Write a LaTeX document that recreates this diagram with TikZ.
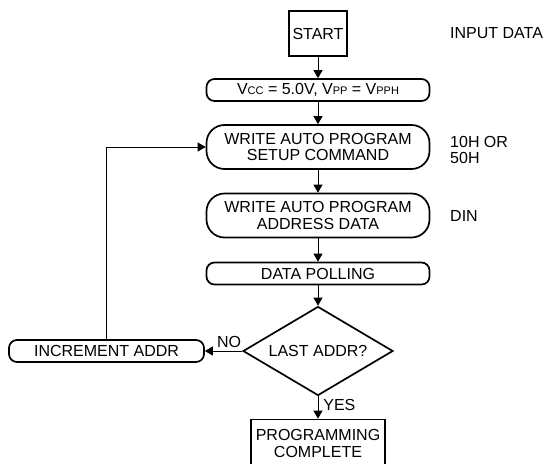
\documentclass[tikz,border=0pt]{standalone}
\usepackage{fontspec}
\setmainfont{Liberation Sans}
\usetikzlibrary{shapes.geometric,arrows.meta}
\newcommand{\smc}[1]{{\fontsize{11}{11}\selectfont #1}}
\begin{document}
\begin{tikzpicture}[x=1pt,y=-1pt,
  every node/.style={font=\fontsize{16}{16.5}\selectfont, inner sep=0pt},
  box/.style={draw, line width=1.7pt, align=center},
  rbox/.style={box, rounded corners=8pt, minimum width=223pt, minimum height=22pt},
  tbox/.style={box, rounded corners=18pt, minimum width=223pt, minimum height=44pt},
  dec/.style={draw, diamond, line width=1.7pt, minimum width=150pt, minimum height=89pt, aspect=1.67},
  lab/.style={anchor=west, align=left},
  conn/.style={line width=0.8pt, -{Triangle[length=8pt,width=9pt]}}
]
\useasboundingbox (0,0) rectangle (548,463);
\node[box, minimum width=58pt, minimum height=45pt] (start) at (318,33.5) {START};
\node[rbox] (vcc) at (318,90) {V\smc{CC} = 5.0V, V\smc{PP} = V\smc{PPH}};
\node[tbox] (setup) at (318,147) {WRITE AUTO PROGRAM\\SETUP COMMAND};
\node[tbox] (addr) at (318,215.5) {WRITE AUTO PROGRAM\\ADDRESS DATA};
\node[rbox] (poll) at (318,273.5) {DATA POLLING};
\node[dec] (last) at (318,351) {LAST ADDR?};
\node[box, rounded corners=8pt, minimum width=195pt, minimum height=22pt] (inc) at (106.5,351) {INCREMENT ADDR};
\node[box, minimum width=134pt, minimum height=48pt] (done) at (318,443.5) {PROGRAMMING\\COMPLETE};
\node[lab] (inp) at (450,33) {INPUT DATA};
\node[lab] (cmd) at (450,150) {10H OR\\50H};
\node[lab] (din) at (450,216) {DIN};
\draw[conn] (start) -- (vcc);
\draw[conn] (vcc) -- (setup);
\draw[conn] (setup) -- (addr);
\draw[conn] (addr) -- (poll);
\draw[conn] (poll) -- (last);
\draw[conn] (last) -- node[above=3pt, pos=0.35] (no) {NO} (inc);
\draw[conn] (last) -- node[right=5pt, pos=0.4] (yes) {YES} (done);
\draw[conn] (inc.north) |- (setup.west);
\end{tikzpicture}
\end{document}
